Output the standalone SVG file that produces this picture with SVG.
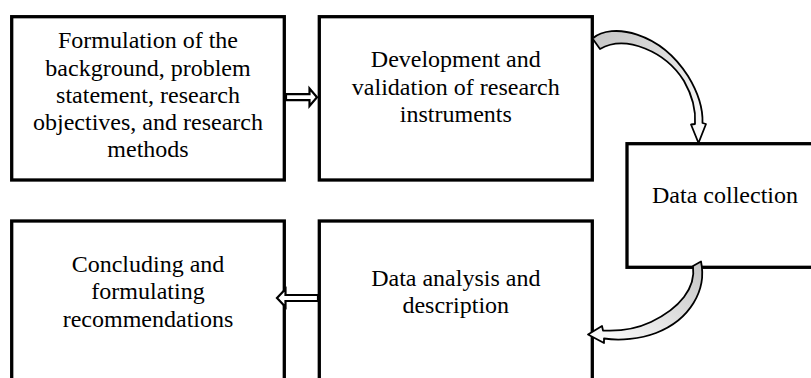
<svg xmlns="http://www.w3.org/2000/svg" width="811" height="378" viewBox="0 0 811 378">
<defs>
<style>
.box{fill:#ffffff;stroke:#000000;stroke-width:3.3}
.t{font-family:"Liberation Serif","Times New Roman",serif;font-size:24px;fill:#000000;text-anchor:middle}
.blk{fill:#ffffff;stroke:#000000;stroke-width:2.2;stroke-linejoin:miter}
.curve{stroke:#000000;stroke-width:1.8;stroke-linejoin:round}
</style>
<linearGradient id="g1" x1="0" y1="0" x2="1" y2="1">
<stop offset="0" stop-color="#c4c4c4"/>
<stop offset="1" stop-color="#ffffff"/>
</linearGradient>
<linearGradient id="g2" x1="1" y1="0" x2="0" y2="1">
<stop offset="0" stop-color="#c4c4c4"/>
<stop offset="1" stop-color="#ffffff"/>
</linearGradient>
</defs>
<rect width="811" height="378" fill="#ffffff"/>
<g id="node-formulation">
<rect class="box" x="11.7" y="16.7" width="272.6" height="163.3"/>
<text class="t" x="148" y="48">Formulation of the</text>
<text class="t" x="148" y="75.5">background, problem</text>
<text class="t" x="148" y="103">statement, research</text>
<text class="t" x="148" y="130">objectives, and research</text>
<text class="t" x="148" y="157">methods</text>
</g>
<g id="node-development">
<rect class="box" x="319.3" y="16.7" width="273" height="163.3"/>
<text class="t" x="455.8" y="67">Development and</text>
<text class="t" x="455.8" y="95">validation of research</text>
<text class="t" x="455.8" y="122">instruments</text>
</g>
<g id="node-collection">
<rect class="box" x="627" y="143.7" width="200" height="123.6"/>
<text class="t" x="725" y="203">Data collection</text>
</g>
<g id="node-analysis">
<rect class="box" x="319.3" y="221" width="273" height="200"/>
<text class="t" x="455.8" y="286">Data analysis and</text>
<text class="t" x="455.8" y="313">description</text>
</g>
<g id="node-concluding">
<rect class="box" x="11.7" y="221" width="272.6" height="200"/>
<text class="t" x="148" y="272">Concluding and</text>
<text class="t" x="148" y="299">formulating</text>
<text class="t" x="148" y="327">recommendations</text>
</g>
<g id="connectors">
<polygon class="blk" points="286,94.2 309.5,94.2 309.5,88.5 317,97.2 309.5,106 309.5,100.2 286,100.2"/>
<polygon class="blk" points="318,295 285.5,295 285.5,289 277,298 285.5,307 285.5,301 318,301"/>
<path class="curve" fill="url(#g1)" d="M592.5,38.5 C612,22 660,32 688,76 C699,94 703,110 702.5,123 L706,124 L698.5,143 L691,124.5 L695,124 C696,110 692,95 684,81 C666,52 626,34 600,49 Z"/>
<path class="curve" fill="url(#g2)" d="M693,266 L701,261.5 C707,290 690,320 656,333 C640,339 620,341 604,338.5 L604,343 L588,334.5 L602,326 L603,330.5 C620,331.5 636,329 651,322 C680,308 696,288 693,266 Z"/>
</g>
</svg>
